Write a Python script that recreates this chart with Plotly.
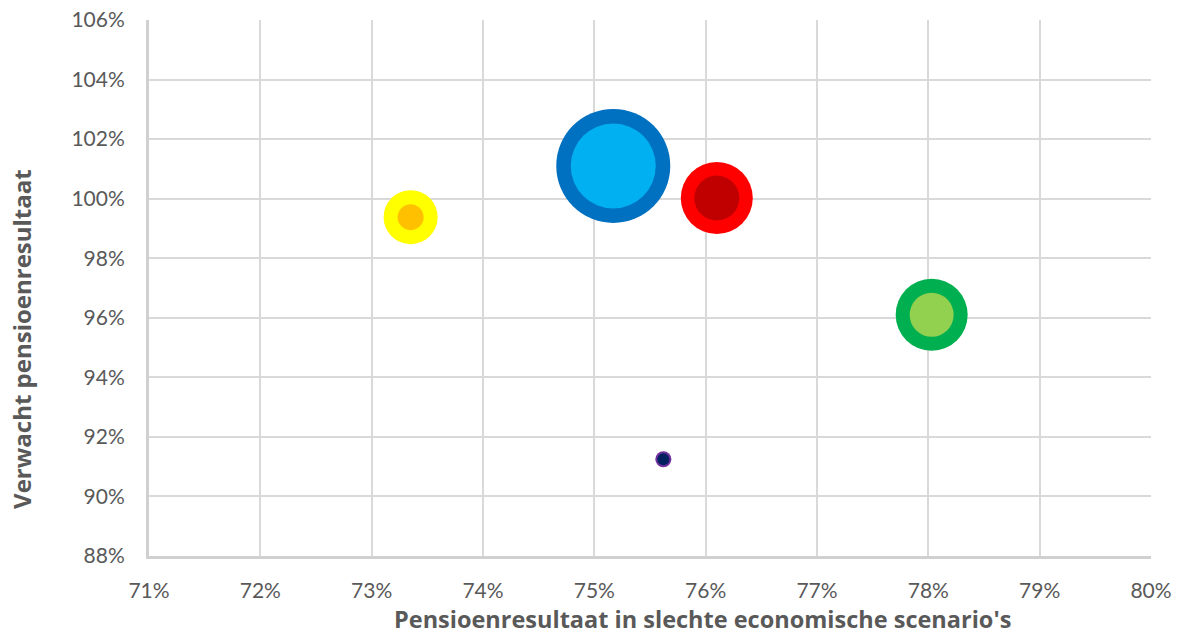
import plotly.graph_objects as go

# Pension outcomes per strategy: bad-scenario result (x) vs expected result (y), in %
slecht_scenario = [73.35, 75.17, 76.10, 78.03, 75.62]
verwacht = [99.38, 101.10, 100.02, 96.10, 91.25]
# Bubble diameters (outer ring and inner core)
grootte_buiten = [54, 114, 72, 72, 16]
grootte_binnen = [26, 85, 45, 44, 12]
kleur_buiten = ["#FFFF00", "#0070C0", "#FF0000", "#00B050", "#7030A0"]
kleur_binnen = ["#FFC000", "#00B0F0", "#C00000", "#92D050", "#002060"]

x_ticks = list(range(71, 81))
x_labels = [f"{v}%" for v in x_ticks]
y_ticks = list(range(88, 107, 2))
y_labels = [f"{v}%" for v in y_ticks]

FONT = "Lato, 'Open Sans', sans-serif"
TITLE_FONT = "'Open Sans', Lato, sans-serif"
GREY_TXT = "#595959"

fig = go.Figure()
fig.add_trace(go.Scatter(
    x=slecht_scenario, y=verwacht, mode="markers",
    marker=dict(size=grootte_buiten, sizemode="diameter", color=kleur_buiten,
                line=dict(width=0), opacity=1),
    hoverinfo="skip", showlegend=False,
))
fig.add_trace(go.Scatter(
    x=slecht_scenario, y=verwacht, mode="markers",
    marker=dict(size=grootte_binnen, sizemode="diameter", color=kleur_binnen,
                line=dict(width=0), opacity=1),
    hoverinfo="skip", showlegend=False,
))

fig.update_layout(
    width=1182, height=636,
    margin=dict(l=149, r=31, t=20, b=80),
    paper_bgcolor="white", plot_bgcolor="white",
    font=dict(family=FONT, size=21, color=GREY_TXT),
    xaxis=dict(
        range=[71, 80], tickmode="array", tickvals=x_ticks, ticktext=x_labels,
        automargin=False,
        showgrid=True, gridcolor="#D9D9D9", gridwidth=2,
        showline=True, linecolor="#D0D0D0", linewidth=3,
        zeroline=False, ticks="", ticklabelstandoff=14,
        tickfont=dict(family=FONT, size=21, color=GREY_TXT),
    ),
    yaxis=dict(
        range=[88, 106], tickmode="array", tickvals=y_ticks, ticktext=y_labels,
        automargin=False,
        showgrid=True, gridcolor="#D9D9D9", gridwidth=2,
        showline=True, linecolor="#D0D0D0", linewidth=3,
        zeroline=False, ticks="", ticklabelstandoff=17,
        tickfont=dict(family=FONT, size=21, color=GREY_TXT),
    ),
    annotations=[
        dict(text="<b>Pensioenresultaat in slechte economische scenario's</b>",
             xref="paper", yref="paper", x=0.552, y=0, yshift=-63,
             xanchor="center", yanchor="middle", showarrow=False,
             font=dict(family=TITLE_FONT, size=23.5, color=GREY_TXT)),
        dict(text="<b>Verwacht pensioenresultaat</b>",
             xref="paper", yref="paper", x=0, xshift=-127, y=0.405,
             xanchor="center", yanchor="middle", textangle=-90, showarrow=False,
             font=dict(family=TITLE_FONT, size=24, color=GREY_TXT)),
    ],
)

fig.write_html("out.html")
